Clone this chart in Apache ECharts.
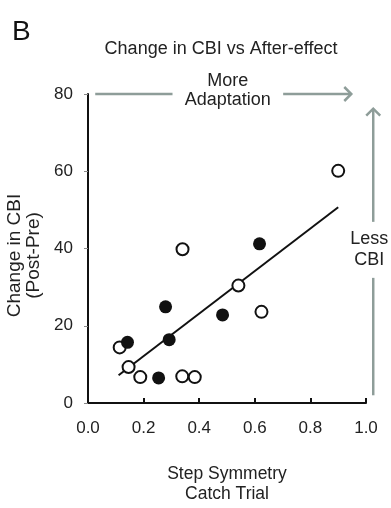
<!DOCTYPE html>
<html>
<head>
<meta charset="utf-8">
<script src="https://cdn.jsdelivr.net/npm/echarts@6/dist/echarts.min.js"></script>
<style>
  html, body { margin: 0; padding: 0; background: #fff; }
  #chart { width: 391px; height: 508px; }
</style>
</head>
<body>
<div id="chart"></div>
<script>
// values
const openPoints = [
  [0.114, 14.4], [0.146, 9.3], [0.188, 6.7], [0.340, 39.8], [0.339, 6.9],
  [0.384, 6.7], [0.541, 30.4], [0.624, 23.6], [0.900, 60.1]
];
const filledPoints = [
  [0.142, 15.7], [0.254, 6.5], [0.279, 24.9], [0.292, 16.4],
  [0.484, 22.8], [0.617, 41.2]
];
const fitLine = [[0.11, 7.2], [0.90, 50.7]];
const xTicks = [0, 0.2, 0.4, 0.6, 0.8, 1.0];
const yTicks = [0, 20, 40, 60, 80];

const font = "Liberation Sans, Arial, sans-serif";
const grey = "#8e9d99";

const chartDom = document.getElementById("chart");
const myChart = echarts.init(chartDom);

const option = {
  animation: false,
  title: {
    text: "Change in CBI vs After-effect",
    left: 216,
    top: 35,
    textAlign: "center",
    textStyle: { fontFamily: font, fontSize: 18, fontWeight: "normal", color: "#222" },
  },
  grid: { left: 88, right: 25, top: 94, bottom: 105, outerBoundsMode: "none", containLabel: false },
  xAxis: {
    type: "value",
    min: xTicks[0],
    max: xTicks[xTicks.length - 1],
    interval: 0.2,
    name: "Step Symmetry\nCatch Trial",
    nameLocation: "middle",
    nameGap: 61,
    nameTextStyle: { fontFamily: font, fontSize: 17.5, color: "#222", lineHeight: 20 },
    axisLine: { lineStyle: { color: "#111", width: 2 } },
    axisTick: { inside: true, length: 5, lineStyle: { color: "#111", width: 2 } },
    axisLabel: {
      fontFamily: font, fontSize: 17, color: "#222", margin: 17,
      formatter: (v) => v.toFixed(1),
    },
    splitLine: { show: false },
  },
  yAxis: {
    type: "value",
    min: yTicks[0],
    max: yTicks[yTicks.length - 1],
    interval: 20,
    name: "Change in CBI\n(Post-Pre)",
    nameLocation: "middle",
    nameGap: 44,
    nameTextStyle: { fontFamily: font, fontSize: 19, color: "#222", lineHeight: 19, padding: [0, 14, 0, 0] },
    axisLine: { show: true, lineStyle: { color: "#111", width: 2 } },
    axisTick: { show: true, length: 4, lineStyle: { color: "#888", width: 1 } },
    axisLabel: { fontFamily: font, fontSize: 17, color: "#222", margin: 15 },
    splitLine: { show: false },
  },
  series: [
    {
      name: "fit",
      type: "line",
      data: fitLine,
      symbol: "none",
      lineStyle: { color: "#111", width: 2 },
      z: 1,
    },
    {
      name: "open",
      type: "scatter",
      data: openPoints,
      symbolSize: 12,
      itemStyle: { color: "#fff", borderColor: "#111", borderWidth: 2, opacity: 1 },
      z: 3,
    },
    {
      name: "filled",
      type: "scatter",
      data: filledPoints,
      symbolSize: 13,
      itemStyle: { color: "#111", opacity: 1 },
      z: 4,
    },
  ],
};

option && myChart.setOption(option);

// annotation arrows, placed in data space through the axes
const px = (p) => myChart.convertToPixel({ xAxisIndex: 0, yAxisIndex: 0 }, p);
const hA = px([0.026, 80]), hB = px([0.304, 80]), hC = px([0.702, 80]), hD = px([0.947, 80]);
const vA = px([1.026, 2]), vB = px([1.026, 32.4]), vC = px([1.026, 46.9]), vD = px([1.026, 76.2]);
const head = 7;
const lineStyle = { stroke: grey, lineWidth: 2.5, fill: null };

myChart.setOption({
  graphic: [
    { type: "text", left: 12, top: 18,
      style: { text: "B", font: "28px " + font, fill: "#111" } },
    { type: "line", shape: { x1: hA[0], y1: hA[1], x2: hB[0], y2: hB[1] }, style: lineStyle },
    { type: "line", shape: { x1: hC[0], y1: hC[1], x2: hD[0], y2: hD[1] }, style: lineStyle },
    { type: "polyline",
      shape: { points: [[hD[0] - head, hD[1] - head], [hD[0], hD[1]], [hD[0] - head, hD[1] + head]] },
      style: lineStyle },
    { type: "text", x: (hB[0] + hC[0]) / 2, y: hA[1] - 3,
      style: { text: "More\nAdaptation", font: "18px " + font, fill: "#222",
               align: "center", verticalAlign: "middle", lineHeight: 19 } },
    { type: "line", shape: { x1: vA[0], y1: vA[1], x2: vB[0], y2: vB[1] }, style: lineStyle },
    { type: "line", shape: { x1: vC[0], y1: vC[1], x2: vD[0], y2: vD[1] }, style: lineStyle },
    { type: "polyline",
      shape: { points: [[vD[0] - head, vD[1] + head], [vD[0], vD[1]], [vD[0] + head, vD[1] + head]] },
      style: lineStyle },
    { type: "text", x: vA[0] - 4, y: (vB[1] + vC[1]) / 2,
      style: { text: "Less\nCBI", font: "18px " + font, fill: "#222",
               align: "center", verticalAlign: "middle", lineHeight: 21 } },
  ],
});
</script>
</body>
</html>
